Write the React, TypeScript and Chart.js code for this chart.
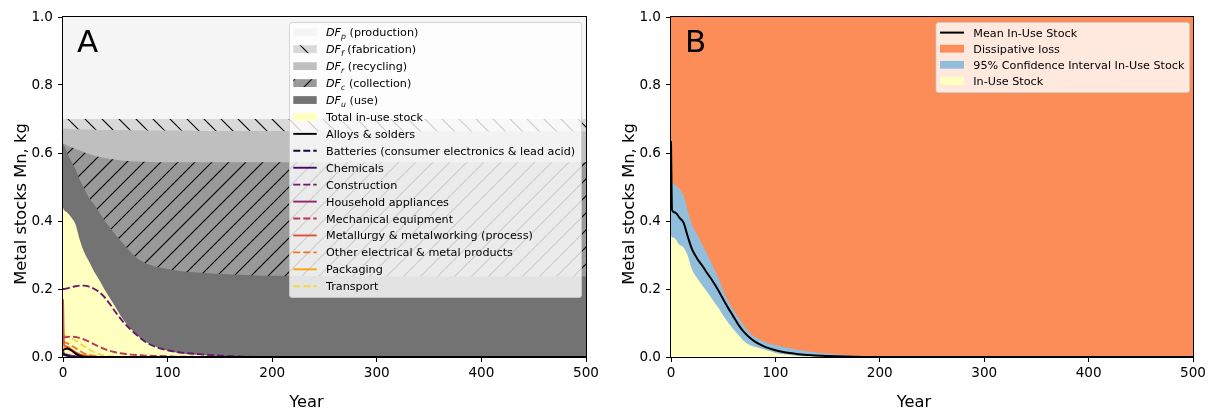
import React, { useEffect, useRef } from 'react';
import { Chart, registerables } from 'chart.js';
Chart.register(...registerables);

const FONT = "'DejaVu Sans', 'Liberation Sans', sans-serif";

// ---------------- Panel A data ----------------
const yearsA = [0, 1, 4, 8, 12, 16, 20, 25, 30, 35, 40, 45, 50, 55, 60, 65, 70, 75, 80, 90, 100, 110, 120, 135, 150, 175, 200, 250, 300, 400, 500];

// cumulative upper boundaries of the stacked dissipation layers
const totalInUseTop = [0.44, 0.432, 0.425, 0.41, 0.39, 0.345, 0.31, 0.28, 0.25, 0.225, 0.197, 0.172, 0.148, 0.122, 0.1, 0.082, 0.066, 0.053, 0.043, 0.029, 0.019, 0.012, 0.008, 0.005, 0.003, 0.001, 0, 0, 0, 0, 0];
const dfUseTop = [0.628, 0.622, 0.6, 0.575, 0.552, 0.522, 0.497, 0.468, 0.447, 0.424, 0.4, 0.38, 0.36, 0.342, 0.325, 0.308, 0.293, 0.282, 0.274, 0.265, 0.259, 0.254, 0.25, 0.247, 0.244, 0.241, 0.239, 0.238, 0.237, 0.237, 0.237];
const dfCollectionTop = [0.628, 0.627, 0.622, 0.617, 0.612, 0.607, 0.602, 0.597, 0.592, 0.588, 0.585, 0.582, 0.58, 0.578, 0.577, 0.576, 0.575, 0.574, 0.574, 0.573, 0.573, 0.573, 0.573, 0.573, 0.573, 0.573, 0.573, 0.573, 0.573, 0.573, 0.573];
const dfRecyclingTop = [0.671, 0.671, 0.671, 0.67, 0.67, 0.67, 0.669, 0.669, 0.669, 0.668, 0.668, 0.668, 0.668, 0.667, 0.667, 0.667, 0.667, 0.667, 0.666, 0.666, 0.666, 0.666, 0.666, 0.665, 0.665, 0.665, 0.665, 0.664, 0.664, 0.663, 0.663];
const dfFabricationTop = [0.7, 0.7, 0.7, 0.7, 0.7, 0.7, 0.7, 0.7, 0.7, 0.7, 0.7, 0.7, 0.7, 0.7, 0.7, 0.7, 0.7, 0.7, 0.7, 0.7, 0.7, 0.7, 0.7, 0.7, 0.7, 0.7, 0.7, 0.7, 0.7, 0.7, 0.7];
const dfProductionTop = [1, 1, 1, 1, 1, 1, 1, 1, 1, 1, 1, 1, 1, 1, 1, 1, 1, 1, 1, 1, 1, 1, 1, 1, 1, 1, 1, 1, 1, 1, 1];

// sector in-use stocks
const alloysSolders = [0.02, 0.022, 0.025, 0.02, 0.01, 0.004, 0.001, 0, 0, 0, 0, 0, 0, 0, 0, 0, 0, 0, 0, 0, 0, 0, 0, 0, 0, 0, 0, 0, 0, 0, 0];
const batteries = [0.008, 0.006, 0.004, 0.002, 0.001, 0, 0, 0, 0, 0, 0, 0, 0, 0, 0, 0, 0, 0, 0, 0, 0, 0, 0, 0, 0, 0, 0, 0, 0, 0, 0];
const chemicals = [0.012, 0.008, 0.004, 0.001, 0, 0, 0, 0, 0, 0, 0, 0, 0, 0, 0, 0, 0, 0, 0, 0, 0, 0, 0, 0, 0, 0, 0, 0, 0, 0, 0];
const construction = [0.2, 0.2, 0.202, 0.205, 0.208, 0.21, 0.21, 0.207, 0.2, 0.19, 0.175, 0.155, 0.133, 0.113, 0.095, 0.08, 0.066, 0.053, 0.042, 0.028, 0.02, 0.014, 0.011, 0.007, 0.004, 0.001, 0, 0, 0, 0, 0];
const householdAppliances = [0.02, 0.01, 0.007, 0.004, 0.002, 0.001, 0, 0, 0, 0, 0, 0, 0, 0, 0, 0, 0, 0, 0, 0, 0, 0, 0, 0, 0, 0, 0, 0, 0, 0, 0];
const mechanicalEquipment = [0.058, 0.058, 0.059, 0.06, 0.059, 0.056, 0.052, 0.045, 0.037, 0.03, 0.023, 0.018, 0.014, 0.011, 0.009, 0.007, 0.006, 0.005, 0.004, 0.003, 0.002, 0.001, 0.001, 0, 0, 0, 0, 0, 0, 0, 0];
const metallurgy = [0.17, 0.035, 0.03, 0.022, 0.014, 0.008, 0.004, 0.002, 0.001, 0, 0, 0, 0, 0, 0, 0, 0, 0, 0, 0, 0, 0, 0, 0, 0, 0, 0, 0, 0, 0, 0];
const otherElectrical = [0.047, 0.045, 0.04, 0.034, 0.026, 0.018, 0.011, 0.006, 0.003, 0.001, 0, 0, 0, 0, 0, 0, 0, 0, 0, 0, 0, 0, 0, 0, 0, 0, 0, 0, 0, 0, 0];
const packaging = [0.03, 0.028, 0.024, 0.018, 0.012, 0.007, 0.004, 0.002, 0.001, 0, 0, 0, 0, 0, 0, 0, 0, 0, 0, 0, 0, 0, 0, 0, 0, 0, 0, 0, 0, 0, 0];
const transport = [0.068, 0.066, 0.06, 0.055, 0.048, 0.04, 0.032, 0.022, 0.014, 0.008, 0.004, 0.002, 0.001, 0, 0, 0, 0, 0, 0, 0, 0, 0, 0, 0, 0, 0, 0, 0, 0, 0, 0];

const sectorNames = [
  'Alloys & solders',
  'Batteries (consumer electronics & lead acid)',
  'Chemicals',
  'Construction',
  'Household appliances',
  'Mechanical equipment',
  'Metallurgy & metalworking (process)',
  'Other electrical & metal products',
  'Packaging',
  'Transport',
];
const sectorValues = [alloysSolders, batteries, chemicals, construction, householdAppliances, mechanicalEquipment, metallurgy, otherElectrical, packaging, transport];
const sectorColors = ['#000004', '#160b39', '#420a68', '#6a176e', '#932667', '#bc3754', '#dd513a', '#f37819', '#fca50a', '#f6d746'];
const sectorDashed = [false, true, false, true, false, true, false, true, false, true];

// ---------------- Panel B data ----------------
const yearsB = [0, 1, 4, 8, 12, 16, 20, 25, 30, 35, 40, 45, 50, 55, 60, 65, 70, 75, 80, 90, 100, 110, 120, 135, 150, 175, 200, 250, 300, 400, 500];
const meanInUse = [0.635, 0.432, 0.425, 0.41, 0.395, 0.355, 0.318, 0.29, 0.268, 0.245, 0.223, 0.198, 0.17, 0.143, 0.118, 0.093, 0.073, 0.058, 0.046, 0.03, 0.02, 0.013, 0.009, 0.005, 0.003, 0.001, 0, 0, 0, 0, 0];
const ciUpper = [0.52, 0.515, 0.505, 0.495, 0.475, 0.43, 0.39, 0.36, 0.33, 0.3, 0.268, 0.235, 0.195, 0.163, 0.137, 0.113, 0.092, 0.073, 0.06, 0.044, 0.035, 0.028, 0.022, 0.015, 0.01, 0.004, 0.002, 0.0005, 0, 0, 0];
const ciLower = [0.355, 0.352, 0.348, 0.33, 0.322, 0.298, 0.258, 0.232, 0.21, 0.19, 0.168, 0.146, 0.122, 0.1, 0.081, 0.063, 0.046, 0.036, 0.03, 0.021, 0.012, 0.007, 0.004, 0.002, 0.001, 0, 0, 0, 0, 0, 0];
const dissipativeTop = [1, 1, 1, 1, 1, 1, 1, 1, 1, 1, 1, 1, 1, 1, 1, 1, 1, 1, 1, 1, 1, 1, 1, 1, 1, 1, 1, 1, 1, 1, 1];

const xTicks = [0, 100, 200, 300, 400, 500];
const yTicks = [0, 0.2, 0.4, 0.6, 0.8, 1.0];

// ---------------- helpers ----------------
const pts = (xs: number[], ys: number[]) => xs.map((x, i) => ({ x, y: ys[i] }));

function makeHatch(bg: string, dir: '/' | '\\'): CanvasPattern | string {
  const s = 17;
  const c = document.createElement('canvas');
  c.width = s; c.height = s;
  const g = c.getContext('2d');
  if (!g) return bg;
  g.fillStyle = bg;
  g.fillRect(0, 0, s, s);
  g.strokeStyle = '#000';
  g.lineWidth = 1.1;
  g.beginPath();
  if (dir === '/') {
    g.moveTo(-1, 1); g.lineTo(1, -1);
    g.moveTo(0, s); g.lineTo(s, 0);
    g.moveTo(s - 1, s + 1); g.lineTo(s + 1, s - 1);
  } else {
    g.moveTo(0, 0); g.lineTo(s, s);
    g.moveTo(-1, s - 1); g.lineTo(1, s + 1);
    g.moveTo(s - 1, -1); g.lineTo(s + 1, 1);
  }
  g.stroke();
  return g.createPattern(c, 'repeat') || bg;
}

type LegendItem = { kind: 'patch' | 'line'; color: any; dash?: boolean; label: string; sub?: string; lw?: number };
type LegendCfg = { x: number; y: number; w: number; h: number; row0: number; dy: number; swX: number; swW: number; textX: number; items: LegendItem[] };

function decorPlugin(letter: string, legend: LegendCfg) {
  return {
    id: 'decor' + letter,
    afterDatasetsDraw(chart: any) {
      const { ctx, chartArea: a } = chart;
      ctx.save();
      // spines
      ctx.strokeStyle = '#000';
      ctx.lineWidth = 1;
      ctx.strokeRect(Math.round(a.left) - 0.5, Math.round(a.top) - 0.5, Math.round(a.right - a.left) + 1, Math.round(a.bottom - a.top) + 1);
      // panel letter
      ctx.fillStyle = '#000';
      ctx.font = `31px ${FONT}`;
      ctx.textAlign = 'left';
      ctx.textBaseline = 'alphabetic';
      ctx.fillText(letter, a.left + 14, a.top + 34.5);
      // axis titles
      ctx.font = `16.3px ${FONT}`;
      ctx.textAlign = 'center';
      ctx.fillText('Year', (a.left + a.right) / 2 - 18, 406.5);
      ctx.save();
      ctx.translate(26, (a.top + a.bottom) / 2 + 17);
      ctx.rotate(-Math.PI / 2);
      ctx.fillText('Metal stocks Mn, kg', 0, 0);
      ctx.restore();
      // legend box
      const L = legend;
      const r = 2.5;
      ctx.beginPath();
      ctx.moveTo(L.x + r, L.y);
      ctx.lineTo(L.x + L.w - r, L.y);
      ctx.quadraticCurveTo(L.x + L.w, L.y, L.x + L.w, L.y + r);
      ctx.lineTo(L.x + L.w, L.y + L.h - r);
      ctx.quadraticCurveTo(L.x + L.w, L.y + L.h, L.x + L.w - r, L.y + L.h);
      ctx.lineTo(L.x + r, L.y + L.h);
      ctx.quadraticCurveTo(L.x, L.y + L.h, L.x, L.y + L.h - r);
      ctx.lineTo(L.x, L.y + r);
      ctx.quadraticCurveTo(L.x, L.y, L.x + r, L.y);
      ctx.closePath();
      ctx.fillStyle = 'rgba(255,255,255,0.8)';
      ctx.fill();
      ctx.strokeStyle = 'rgba(204,204,204,0.8)';
      ctx.lineWidth = 1;
      ctx.stroke();
      L.items.forEach((it, i) => {
        const cy = L.row0 + i * L.dy;
        if (it.kind === 'patch') {
          ctx.fillStyle = it.color;
          ctx.fillRect(L.swX, cy - 3.9, L.swW, 7.8);
        } else {
          ctx.strokeStyle = it.color;
          ctx.lineWidth = it.lw || 1.9;
          ctx.setLineDash(it.dash ? [7, 3] : []);
          ctx.beginPath();
          ctx.moveTo(L.swX, cy);
          ctx.lineTo(L.swX + L.swW, cy);
          ctx.stroke();
          ctx.setLineDash([]);
        }
        ctx.fillStyle = '#000';
        ctx.textAlign = 'left';
        ctx.textBaseline = 'alphabetic';
        const base = cy + 4;
        let x = L.textX;
        if (it.sub) {
          ctx.font = `italic 11.2px ${FONT}`;
          ctx.fillText('DF', x, base);
          x += ctx.measureText('DF').width;
          ctx.font = `italic 7.8px ${FONT}`;
          ctx.fillText(it.sub, x, base + 2.6);
          x += ctx.measureText(it.sub).width;
        }
        ctx.font = `11.2px ${FONT}`;
        ctx.fillText(it.label, x, base);
      });
      ctx.restore();
    },
  };
}

function baseOptions(padRight: number) {
  const tickFont = { family: FONT, size: 13.6 };
  return {
    responsive: false,
    maintainAspectRatio: false,
    animation: false as const,
    layout: { padding: { left: 0, right: padRight, top: 17, bottom: 0 } },
    plugins: { legend: { display: false }, tooltip: { enabled: false }, colors: { enabled: false } },
    elements: { point: { radius: 0, hoverRadius: 0 } },
    scales: {
      x: {
        type: 'linear' as const,
        min: 0,
        max: 500,
        afterBuildTicks: (s: any) => { s.ticks = xTicks.map((v) => ({ value: v })); },
        ticks: { color: '#000', font: tickFont, padding: 3, maxRotation: 0, callback: (v: any) => String(v) },
        grid: { drawOnChartArea: false, drawTicks: true, tickLength: 5, tickColor: '#000', tickWidth: 1, color: '#000' },
        border: { display: false },
        afterFit: (s: any) => { s.height = 52; },
      },
      y: {
        type: 'linear' as const,
        min: 0,
        max: 1,
        afterBuildTicks: (s: any) => { s.ticks = yTicks.map((v) => ({ value: v })); },
        ticks: { color: '#000', font: tickFont, padding: 5, callback: (v: any) => Number(v).toFixed(1) },
        grid: { drawOnChartArea: false, drawTicks: true, tickLength: 5, tickColor: '#000', tickWidth: 1, color: '#000' },
        border: { display: false },
        afterFit: (s: any) => { s.width = 63; },
      },
    },
  };
}

const area = (label: string, xs: number[], ys: number[], color: any) => ({
  label,
  data: pts(xs, ys),
  fill: 'origin',
  backgroundColor: color,
  borderWidth: 0,
  borderColor: 'rgba(0,0,0,0)',
  pointRadius: 0,
  cubicInterpolationMode: 'monotone' as const,
  order: 1,
});

function buildA() {
  const fabPattern = makeHatch('#d9d9d9', '\\');
  const colPattern = makeHatch('#999999', '/');
  const colors = {
    prod: '#f5f5f5',
    fab: fabPattern,
    rec: '#bfbfbf',
    col: colPattern,
    use: '#737373',
    stock: '#ffffbf',
  };
  const datasets: any[] = [
    area('Total in-use stock', yearsA, totalInUseTop, colors.stock),
    area('DFu (use)', yearsA, dfUseTop, colors.use),
    area('DFc (collection)', yearsA, dfCollectionTop, colors.col),
    area('DFr (recycling)', yearsA, dfRecyclingTop, colors.rec),
    area('DFf (fabrication)', yearsA, dfFabricationTop, colors.fab),
    area('DFp (production)', yearsA, dfProductionTop, colors.prod),
  ];
  sectorNames.forEach((name, i) => {
    datasets.push({
      label: name,
      data: pts(yearsA, sectorValues[i]),
      fill: false,
      borderColor: sectorColors[i],
      borderWidth: 1.9,
      borderDash: sectorDashed[i] ? [7, 3] : [],
      pointRadius: 0,
      cubicInterpolationMode: 'monotone',
      order: 0,
    });
  });
  const items: LegendItem[] = [
    { kind: 'patch', color: colors.prod, sub: 'p', label: ' (production)' },
    { kind: 'patch', color: colors.fab, sub: 'f', label: ' (fabrication)' },
    { kind: 'patch', color: colors.rec, sub: 'r', label: ' (recycling)' },
    { kind: 'patch', color: colors.col, sub: 'c', label: ' (collection)' },
    { kind: 'patch', color: colors.use, sub: 'u', label: ' (use)' },
    { kind: 'patch', color: colors.stock, label: 'Total in-use stock' },
    ...sectorNames.map((n, i) => ({ kind: 'line' as const, color: sectorColors[i], dash: sectorDashed[i], label: n })),
  ];
  const legend: LegendCfg = { x: 289.5, y: 22.5, w: 292, h: 275, row0: 32.3, dy: 16.93, swX: 293.3, swW: 23.4, textX: 326, items };
  return {
    type: 'line' as const,
    data: { datasets },
    options: baseOptions(21),
    plugins: [decorPlugin('A', legend)],
  };
}

function buildB() {
  const datasets: any[] = [
    area('In-Use Stock', yearsB, ciLower, '#ffffbf'),
    area('95% Confidence Interval In-Use Stock', yearsB, ciUpper, '#91bfdb'),
    area('Dissipative loss', yearsB, dissipativeTop, '#fc8d59'),
    {
      label: 'Mean In-Use Stock',
      data: pts(yearsB, meanInUse),
      fill: false,
      borderColor: '#000',
      borderWidth: 2,
      pointRadius: 0,
      cubicInterpolationMode: 'monotone',
      order: 0,
    },
  ];
  const items: LegendItem[] = [
    { kind: 'line', color: '#000', label: 'Mean In-Use Stock', lw: 2 },
    { kind: 'patch', color: '#fc8d59', label: 'Dissipative loss' },
    { kind: 'patch', color: '#91bfdb', label: '95% Confidence Interval In-Use Stock' },
    { kind: 'patch', color: '#ffffbf', label: 'In-Use Stock' },
  ];
  const legend: LegendCfg = { x: 328, y: 22.5, w: 253.5, h: 70, row0: 32.6, dy: 16.1, swX: 332, swW: 24, textX: 365.3, items };
  return {
    type: 'line' as const,
    data: { datasets },
    options: baseOptions(22),
    plugins: [decorPlugin('B', legend)],
  };
}

export default function App() {
  const refA = useRef<HTMLCanvasElement>(null);
  const refB = useRef<HTMLCanvasElement>(null);
  useEffect(() => {
    if (!refA.current || !refB.current) return;
    const a = new Chart(refA.current, buildA() as any);
    const b = new Chart(refB.current, buildB() as any);
    return () => {
      a.destroy();
      b.destroy();
    };
  }, []);
  return (
    <div style={{ position: 'absolute', left: 0, top: 0, width: 1215, height: 409, background: '#fff', overflow: 'hidden' }}>
      <canvas ref={refA} width={607} height={409} style={{ position: 'absolute', left: 0, top: 0 }} />
      <canvas ref={refB} width={607} height={409} style={{ position: 'absolute', left: 608, top: 0 }} />
    </div>
  );
}
